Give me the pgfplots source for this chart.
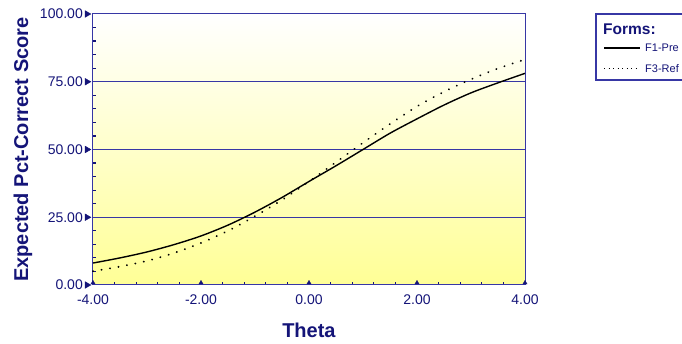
\documentclass[border=0pt]{standalone}
\usepackage{pgfplots}
\pgfplotsset{compat=1.18}
\usepackage{fontspec}
\setmainfont{Liberation Sans}

\definecolor{navy}{RGB}{20,20,120}
\definecolor{frameblue}{RGB}{55,55,165}
\definecolor{paleyellow}{RGB}{255,255,150}

% Expected percent-correct score by theta for each form
\pgfplotstableread{
theta  score
-4.0    8.1
-3.5   10.0
-3.0   12.2
-2.5   14.9
-2.0   18.1
-1.5   22.1
-1.0   26.9
-0.5   32.3
 0.0   38.2
 0.5   44.0
 1.0   50.0
 1.5   56.0
 2.0   61.3
 2.5   66.4
 3.0   70.9
 3.5   74.6
 4.0   78.1
}\formone

\pgfplotstableread{
theta  score
-4.0    5.1
-3.5    6.8
-3.0    8.9
-2.5   11.8
-2.0   15.5
-1.5   20.0
-1.0   25.4
-0.5   31.4
 0.0   38.2
 0.5   45.3
 1.0   52.5
 1.5   59.4
 2.0   65.9
 2.5   71.3
 3.0   75.9
 3.5   79.9
 4.0   83.2
}\formthree

\begin{document}
\begin{tikzpicture}
\begin{axis}[
  at={(0pt,0pt)}, anchor=south west,
  scale only axis,
  width=432pt, height=271pt,
  xmin=-4, xmax=4, ymin=0, ymax=100,
  clip=false,
  axis background/.style={shade, top color=white, bottom color=paleyellow},
  axis line style={frameblue, line width=1pt},
  xtick={-4,-2,0,2,4},
  ytick={0,25,50,75,100},
  minor x tick num=4,
  minor y tick num=4,
  major tick length=0pt,
  minor tick length=3pt,
  tick align=inside,
  tick style={navy, line width=1.2pt},
  xtick pos=bottom, ytick pos=left,
  ymajorgrids=true,
  major grid style={frameblue, line width=1pt},
  /pgf/number format/assume math mode=true,
  /pgf/number format/.cd, fixed, fixed zerofill, precision=2,
  /pgfplots/.cd,
  ticklabel style={text=navy, font=\fontsize{14}{16}\selectfont},
  yticklabel style={anchor=east, inner sep=0pt, xshift=-10pt},
  xticklabel style={anchor=north, inner sep=0pt, yshift=-10pt},
  xlabel={\textbf{Theta}},
  ylabel={\textbf{Expected Pct-Correct Score}},
  label style={text=navy, font=\fontsize{20}{24}\selectfont},
  xlabel style={at={(axis description cs:0.5,-0.192)}, anchor=base},
  ylabel style={at={(axis description cs:-0.162,0.5)}, anchor=center},
]
% tick markers
\addplot[only marks, mark=triangle*, mark size=3.8pt, navy,
  mark options={rotate=-90}]
  coordinates {(-4.11,0) (-4.11,25) (-4.11,50) (-4.11,75) (-4.11,100)};
\addplot[only marks, mark=triangle*, mark size=2.4pt, navy]
  coordinates {(-4,0.8) (-2,0.8) (0,0.8) (2,0.8) (4,0.8)};

% test characteristic curves
\addplot[black, line width=1.4pt, smooth] table[x=theta, y=score] {\formone};
\addplot[black, line width=2pt, smooth, line cap=round,
  dash pattern=on 0.1pt off 8.5pt] table[x=theta, y=score] {\formthree};
\end{axis}

% legend
\draw[frameblue, line width=1.2pt, fill=white] (503pt,205pt) rectangle (640pt,271pt);
\node[anchor=base west, inner sep=0pt, text=navy,
  font=\fontsize{15.5}{18}\selectfont\bfseries] at (510pt,250pt) {Forms:};
\draw[black, line width=1.1pt] (511pt,237pt) -- (547pt,237pt);
\node[anchor=base west, inner sep=0pt, text=navy,
  font=\fontsize{11}{13}\selectfont] at (552pt,233pt) {F1-Pre};
\draw[black, line width=1pt, dash pattern=on 1pt off 3.5pt] (511pt,216pt) -- (547pt,216pt);
\node[anchor=base west, inner sep=0pt, text=navy,
  font=\fontsize{11}{13}\selectfont] at (552pt,212pt) {F3-Ref};

\pgfresetboundingbox
\path[use as bounding box] (-93pt,-59pt) rectangle (589pt,285pt);
\end{tikzpicture}
\end{document}
